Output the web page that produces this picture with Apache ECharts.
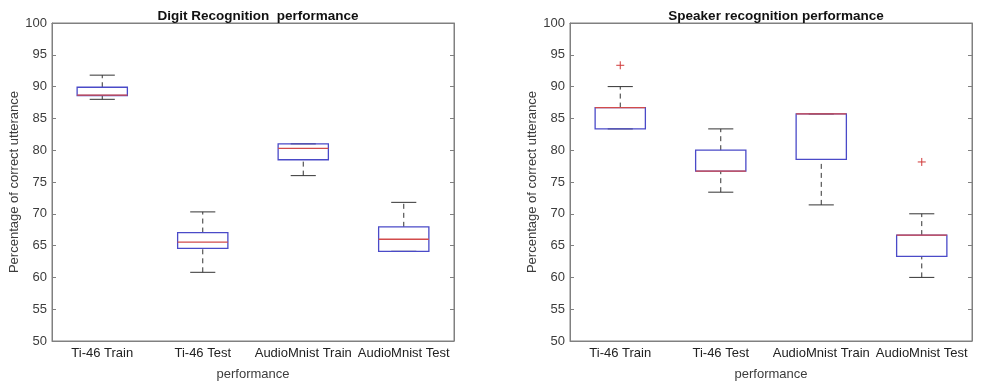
<!DOCTYPE html>
<html>
<head>
<meta charset="utf-8">
<script src="https://cdn.jsdelivr.net/npm/echarts@6/dist/echarts.min.js"></script>
<style>
  html, body { margin: 0; padding: 0; background: #fff; }
  #main { width: 984px; height: 383px; }
</style>
</head>
<body>
<div id="main"></div>
<script>
var categories = ['Ti-46 Train', 'Ti-46 Test', 'AudioMnist Train', 'AudioMnist Test'];
var yTicks = [50, 55, 60, 65, 70, 75, 80, 85, 90, 95, 100];

// [lower whisker, q1, median, q3, upper whisker]
var digitBoxes = [
    [88.0, 88.6, 88.65, 89.9, 91.8],
    [60.8, 64.55, 65.55, 67.05, 70.3],
    [76.0, 78.5, 80.3, 81.0, 81.0],
    [64.1, 64.1, 66.0, 67.95, 71.8]
];
var digitOutliers = [];

var speakerBoxes = [
    [83.35, 83.35, 86.7, 86.7, 90.0],
    [73.4, 76.7, 76.7, 80.0, 83.35],
    [71.4, 78.55, 85.7, 85.7, 85.7],
    [60.0, 63.3, 66.65, 66.65, 70.0]
];
var speakerOutliers = [[0, 93.35], [3, 78.15]];

var axisGray = '#808080';
var textGray = '#3c3c3c';

var myChart = echarts.init(document.getElementById('main'));

function boxItem(params, api) {
    var x = api.value(0);
    var lo = api.coord([x, api.value(1)]);
    var q1 = api.coord([x, api.value(2)]);
    var med = api.coord([x, api.value(3)]);
    var q3 = api.coord([x, api.value(4)]);
    var hi = api.coord([x, api.value(5)]);
    var half = api.size([1, 0])[0] * 0.25;
    var cap = half / 2;
    var cx = q1[0];
    var dash = { stroke: '#333', lineWidth: 1, lineDash: [5, 4] };
    var solid = { stroke: '#333', lineWidth: 1 };
    return {
        type: 'group',
        children: [
            { type: 'line', shape: { x1: cx, y1: q3[1], x2: cx, y2: hi[1] }, style: dash },
            { type: 'line', shape: { x1: cx, y1: lo[1], x2: cx, y2: q1[1] }, style: dash },
            { type: 'line', shape: { x1: cx - cap, y1: hi[1], x2: cx + cap, y2: hi[1] }, style: solid },
            { type: 'line', shape: { x1: cx - cap, y1: lo[1], x2: cx + cap, y2: lo[1] }, style: solid },
            { type: 'rect', shape: { x: cx - half, y: q3[1], width: half * 2, height: q1[1] - q3[1] },
              style: { fill: null, stroke: '#4a4ac8', lineWidth: 1.3 } },
            { type: 'line', shape: { x1: cx - half, y1: med[1], x2: cx + half, y2: med[1] },
              style: { stroke: '#d24b4b', lineWidth: 1.3 } }
        ]
    };
}

function plusItem(params, api) {
    var p = api.coord([api.value(0), api.value(1)]);
    var s = 4;
    var st = { stroke: '#d03a3a', lineWidth: 1 };
    return {
        type: 'group',
        children: [
            { type: 'line', shape: { x1: p[0] - s, y1: p[1], x2: p[0] + s, y2: p[1] }, style: st },
            { type: 'line', shape: { x1: p[0], y1: p[1] - s, x2: p[0], y2: p[1] + s }, style: st }
        ]
    };
}

function boxData(boxes) {
    return boxes.map(function (b, i) { return [i].concat(b); });
}

var grids = [
    { left: 52, right: 530, top: 23, bottom: 42, show: true, borderColor: axisGray, borderWidth: 1,
      outerBoundsMode: 'none' },
    { left: 570, right: 12, top: 23, bottom: 42, show: true, borderColor: axisGray, borderWidth: 1,
      outerBoundsMode: 'none' }
];

var xAxes = [];
var yAxes = [];
[0, 1].forEach(function (g) {
    xAxes.push({
        type: 'category', gridIndex: g, data: categories, position: 'bottom',
        name: 'performance', nameLocation: 'middle', nameGap: 27,
        nameTextStyle: { color: textGray, fontSize: 13, fontFamily: 'Liberation Sans' },
        axisLine: { lineStyle: { color: axisGray } },
        axisTick: { inside: true, alignWithLabel: true, length: 4, lineStyle: { color: axisGray } },
        axisLabel: { color: '#222', fontSize: 13, fontFamily: 'Liberation Sans', margin: 6, interval: 0 },
        splitLine: { show: false }
    });
    xAxes.push({
        type: 'category', gridIndex: g, data: categories, position: 'top',
        axisLine: { lineStyle: { color: axisGray } },
        axisTick: { inside: true, alignWithLabel: true, length: 4, lineStyle: { color: axisGray } },
        axisLabel: { show: false }, splitLine: { show: false }
    });
    yAxes.push({
        type: 'value', gridIndex: g, min: 50, max: 100, interval: 5, position: 'left',
        name: 'Percentage of correct utterance', nameLocation: 'middle', nameGap: 31,
        nameTextStyle: { color: textGray, fontSize: 13, fontFamily: 'Liberation Sans' },
        axisLine: { show: true, lineStyle: { color: axisGray } },
        axisTick: { show: true, inside: true, length: 4, lineStyle: { color: axisGray } },
        axisLabel: { color: textGray, fontSize: 13, fontFamily: 'Liberation Sans', margin: 5,
            formatter: function (v) { return yTicks.indexOf(v) >= 0 ? String(v) : ''; } },
        splitLine: { show: false }
    });
    yAxes.push({
        type: 'value', gridIndex: g, min: 50, max: 100, interval: 5, position: 'right',
        axisLine: { show: true, lineStyle: { color: axisGray } },
        axisTick: { show: true, inside: true, length: 4, lineStyle: { color: axisGray } },
        axisLabel: { show: false }, splitLine: { show: false }
    });
});

option = {
    backgroundColor: '#fff',
    animation: false,
    title: [
        { text: 'Digit Recognition  performance', left: 253, top: 4, textAlign: 'center',
          textStyle: { fontSize: 13.5, fontWeight: 'bold', color: '#111', fontFamily: 'Liberation Sans' } },
        { text: 'Speaker recognition performance', left: 771, top: 4, textAlign: 'center',
          textStyle: { fontSize: 13.5, fontWeight: 'bold', color: '#111', fontFamily: 'Liberation Sans' } }
    ],
    grid: grids,
    xAxis: xAxes,
    yAxis: yAxes,
    series: [
        { type: 'custom', xAxisIndex: 0, yAxisIndex: 0, renderItem: boxItem, data: boxData(digitBoxes) },
        { type: 'custom', xAxisIndex: 0, yAxisIndex: 0, renderItem: plusItem, data: digitOutliers },
        { type: 'custom', xAxisIndex: 2, yAxisIndex: 2, renderItem: boxItem, data: boxData(speakerBoxes) },
        { type: 'custom', xAxisIndex: 2, yAxisIndex: 2, renderItem: plusItem, data: speakerOutliers }
    ]
};

myChart.setOption(option);
</script>
</body>
</html>
